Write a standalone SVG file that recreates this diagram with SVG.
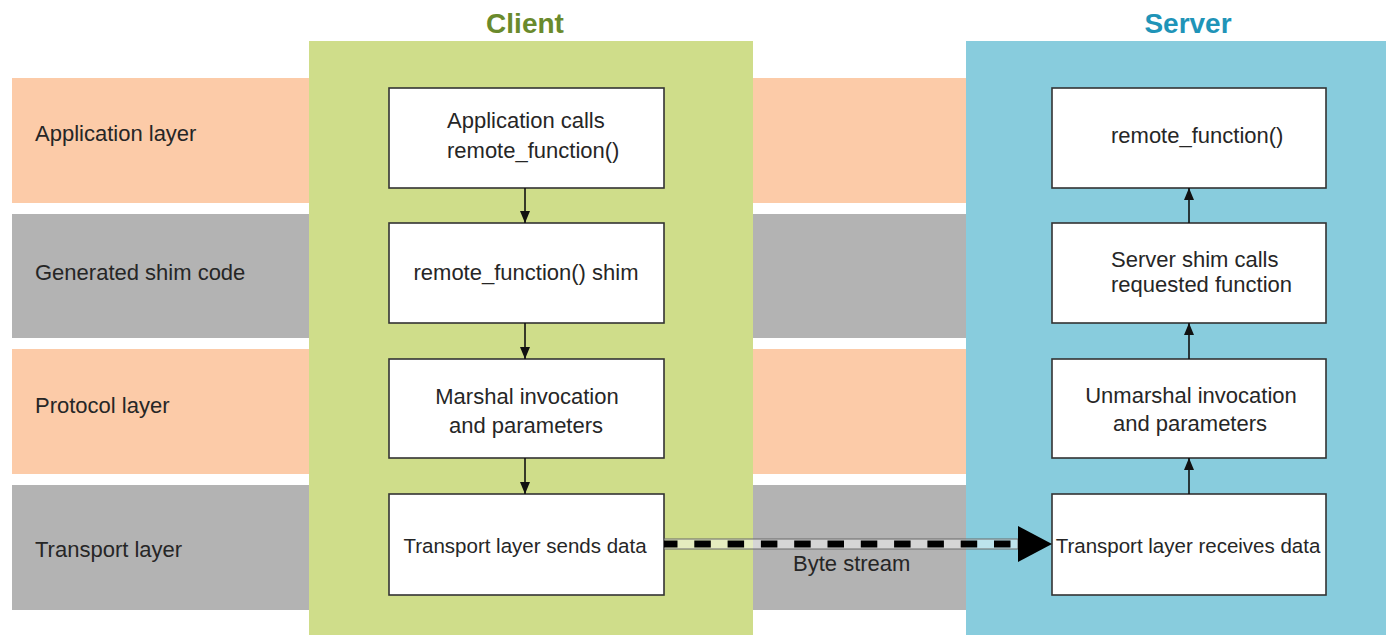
<svg xmlns="http://www.w3.org/2000/svg" width="1386" height="635" viewBox="0 0 1386 635">
  <defs>
    <marker id="ah" viewBox="0 0 12 10" refX="12" refY="5" markerWidth="12" markerHeight="10" markerUnits="userSpaceOnUse" orient="auto">
      <path d="M0,0 L12,5 L0,10 Z" fill="#111"/>
    </marker>
    <style>
      .peach { fill: #fccba8; }
      .gray { fill: #b3b3b3; }
      .lbl { font-family: "Liberation Sans", Arial, sans-serif; font-size: 22px; fill: #262626; }
      .box { fill: #ffffff; stroke: #333333; stroke-width: 1.6; }
      .txt { font-family: "Liberation Sans", Arial, sans-serif; font-size: 22px; fill: #262626; }
      .small { font-size: 20.5px; }
      .mid { text-anchor: middle; }
      .title { font-family: "Liberation Sans", Arial, sans-serif; font-size: 28px; font-weight: bold; text-anchor: middle; }
      .conn { stroke: #111; stroke-width: 1.6; fill: none; marker-end: url(#ah); }
    </style>
  </defs>
  <rect width="1386" height="635" fill="#ffffff"/>

  <g id="bands">
    <rect class="peach" x="12" y="78" width="1374" height="125"/>
    <rect class="gray" x="12" y="214" width="1374" height="124"/>
    <rect class="peach" x="12" y="349" width="1374" height="125"/>
    <rect class="gray" x="12" y="485" width="1374" height="125"/>
    <text class="lbl" x="35" y="141">Application layer</text>
    <text class="lbl" x="35" y="280">Generated shim code</text>
    <text class="lbl" x="35" y="413">Protocol layer</text>
    <text class="lbl" x="35" y="557">Transport layer</text>
  </g>

  <g id="client-panel">
    <rect x="309" y="41" width="444" height="594" fill="#cfdd8a"/>
    <text class="title" x="525" y="33" fill="#6a8a2c">Client</text>
  </g>
  <g id="server-panel">
    <rect x="966" y="41" width="420" height="594" fill="#88ccdd"/>
    <text class="title" x="1188" y="33" fill="#1f94b8">Server</text>
  </g>

  <g id="c1">
    <rect class="box" x="389" y="88" width="275" height="100"/>
    <text class="txt" x="447" y="128">Application calls</text>
    <text class="txt" x="447" y="158">remote_function()</text>
  </g>
  <g id="c2">
    <rect class="box" x="389" y="223" width="275" height="100"/>
    <text class="txt mid" x="526" y="280">remote_function() shim</text>
  </g>
  <g id="c3">
    <rect class="box" x="389" y="359" width="275" height="99"/>
    <text class="txt mid" x="527" y="404">Marshal invocation</text>
    <text class="txt mid" x="526" y="433">and parameters</text>
  </g>
  <g id="c4">
    <rect class="box" x="389" y="494" width="275" height="101"/>
    <text class="txt small mid" x="525" y="553">Transport layer sends data</text>
  </g>

  <g id="s1">
    <rect class="box" x="1052" y="88" width="274" height="100"/>
    <text class="txt" x="1111" y="143">remote_function()</text>
  </g>
  <g id="s2">
    <rect class="box" x="1052" y="223" width="274" height="100"/>
    <text class="txt" x="1111" y="267">Server shim calls</text>
    <text class="txt" x="1111" y="292">requested function</text>
  </g>
  <g id="s3">
    <rect class="box" x="1052" y="359" width="274" height="99"/>
    <text class="txt mid" x="1191" y="403">Unmarshal invocation</text>
    <text class="txt mid" x="1190" y="431">and parameters</text>
  </g>
  <g id="s4">
    <rect class="box" x="1052" y="494" width="274" height="101"/>
    <text class="txt small mid" x="1188" y="553">Transport layer receives data</text>
  </g>

  <g id="connectors">
    <line class="conn" x1="525" y1="188" x2="525" y2="223"/>
    <line class="conn" x1="525" y1="323" x2="525" y2="359"/>
    <line class="conn" x1="525" y1="458" x2="525" y2="494"/>
    <line class="conn" x1="1189" y1="494" x2="1189" y2="458"/>
    <line class="conn" x1="1189" y1="359" x2="1189" y2="323"/>
    <line class="conn" x1="1189" y1="223" x2="1189" y2="188"/>
    <g id="byte-stream">
      <rect x="664" y="539" width="354" height="10" fill="#ffffff" fill-opacity="0.45" stroke="#6a6a6a" stroke-width="1"/>
      <line x1="664" y1="544" x2="1018" y2="544" stroke="#000" stroke-width="7" stroke-dasharray="16.5 16.8" stroke-dashoffset="3"/>
      <path d="M1018,526 L1052,544 L1018,562 Z" fill="#000"/>
      <text class="txt" x="793" y="571">Byte stream</text>
    </g>
  </g>
</svg>
